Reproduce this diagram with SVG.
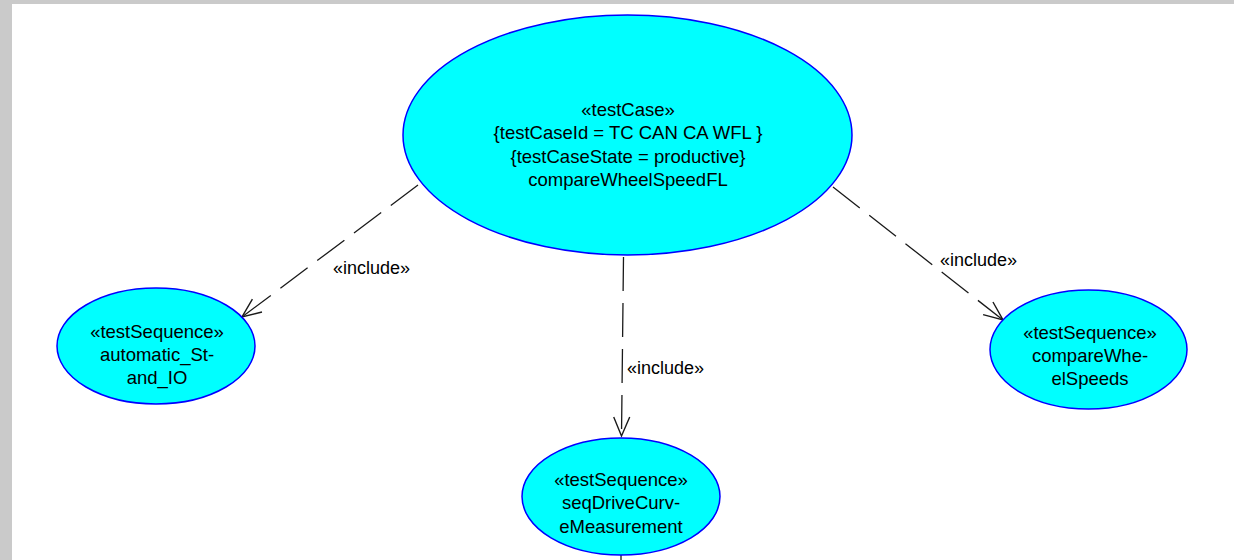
<svg xmlns="http://www.w3.org/2000/svg" width="1234" height="560" viewBox="0 0 1234 560">
<style>
.bg{fill:#ffffff}
.frame{fill:#cacaca}
.uc{fill:#00ffff;stroke:#0000ff;stroke-width:1.5}
.t{font-family:"Liberation Sans",Arial,sans-serif;font-size:18.5px;fill:#000;text-anchor:middle}
.lbl{font-family:"Liberation Sans",Arial,sans-serif;font-size:18px;fill:#000}
.dep{fill:none;stroke:#1a1a1a;stroke-width:1.3;stroke-dasharray:34 12;marker-end:url(#openArrow)}
</style>
<defs>
<marker id="openArrow" viewBox="-22 -10 24 20" refX="0" refY="0" markerWidth="24" markerHeight="20" orient="auto" markerUnits="userSpaceOnUse">
<path d="M -19 -8 L 0 0 L -19 8" fill="none" stroke="#1a1a1a" stroke-width="1.4"/>
</marker>
</defs>
<rect class="bg" x="0" y="0" width="1234" height="560"/>
<rect class="frame" x="0" y="0" width="1234" height="4"/>
<rect class="frame" x="0" y="0" width="12" height="560"/>

<g id="connectors">
<line class="dep" x1="418" y1="185" x2="242" y2="317"/>
<text class="lbl" x="333" y="274">«include»</text>
<line class="dep" x1="623.5" y1="257" x2="621.5" y2="436"/>
<text class="lbl" x="627" y="374">«include»</text>
<line class="dep" x1="833" y1="187" x2="1003" y2="320"/>
<text class="lbl" x="940" y="266">«include»</text>
<line x1="621" y1="555" x2="621" y2="560" stroke="#1a1a1a" stroke-width="1.3"/>
</g>

<g id="compareWheelSpeedFL">
<ellipse class="uc" cx="627.5" cy="135" rx="224.5" ry="120"/>
<text class="t" x="628" y="115.5">«testCase»</text>
<text class="t" x="628" y="139">{testCaseId = TC CAN CA WFL }</text>
<text class="t" x="628" y="162.5">{testCaseState = productive}</text>
<text class="t" x="628" y="186">compareWheelSpeedFL</text>
</g>

<g id="automatic_StandIO">
<ellipse class="uc" cx="156" cy="346" rx="99" ry="58"/>
<text class="t" x="157" y="338">«testSequence»</text>
<text class="t" x="157" y="361">automatic_St-</text>
<text class="t" x="157" y="384">and_IO</text>
</g>

<g id="seqDriveCurveMeasurement">
<ellipse class="uc" cx="621" cy="496.5" rx="99" ry="58.5"/>
<text class="t" x="621" y="486">«testSequence»</text>
<text class="t" x="621" y="509">seqDriveCurv-</text>
<text class="t" x="621" y="533">eMeasurement</text>
</g>

<g id="compareWheelSpeeds">
<ellipse class="uc" cx="1088.5" cy="349.5" rx="98.5" ry="59.5"/>
<text class="t" x="1090" y="339">«testSequence»</text>
<text class="t" x="1090" y="362">compareWhe-</text>
<text class="t" x="1090" y="385">elSpeeds</text>
</g>
</svg>
